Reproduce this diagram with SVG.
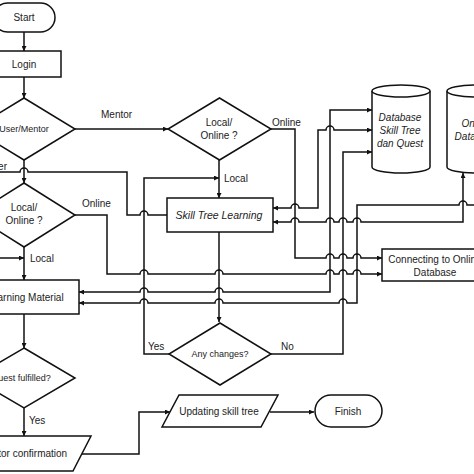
<svg xmlns="http://www.w3.org/2000/svg" width="474" height="474" viewBox="0 0 474 474">
<defs>
<marker id="ah" viewBox="0 0 6 6" refX="6" refY="3" markerWidth="5" markerHeight="5" orient="auto-start-reverse" markerUnits="userSpaceOnUse"><path d="M0,0 L6,3 L0,6 z" fill="#111"/></marker>
<style>
.s{fill:#fff;stroke:#111;stroke-width:1.5}
.c{fill:none;stroke:#111;stroke-width:1.5}
.e{marker-end:url(#ah)}
.b{marker-start:url(#ah);marker-end:url(#ah)}
text{font-family:"Liberation Sans",Arial,sans-serif;font-size:10px;fill:#222}
.m{text-anchor:middle}
.i{font-style:italic}
.sm{font-size:9px}
</style>
</defs>
<rect width="474" height="474" fill="#fff"/>
<g id="connectors">
<path class="c e" d="M24,32 V51"/>
<path class="c e" d="M24,77 V98"/>
<path class="c e" d="M24,160 V183"/>
<path class="c e" d="M75,129 H168"/>
<path class="c" d="M0,172 H20 a4,4 0 0 1 8,0 H127 V215 H140 a4,4 0 0 1 8,0 H167"/>
<path class="c e" d="M75,215 H107 V274 H140 a4,4 0 0 1 8,0 H215 a4,4 0 0 1 8,0 H326 a4,4 0 0 1 8,0 H339 a4,4 0 0 1 8,0 H353 a4,4 0 0 1 8,0 H382"/>
<path class="c e" d="M24,247 V280"/>
<path class="c e" d="M0,258 H24"/>
<path class="c e" d="M24,314 V348"/>
<path class="c e" d="M24,408 V436"/>
<path class="c e" d="M82,454 H139 V412 H170"/>
<path class="c e" d="M270,412 H314"/>
<path class="c e" d="M219,160 V198"/>
<path class="c e" d="M169,354 H144 V178 H219"/>
<path class="c e" d="M219,232 V322"/>
<path class="c e" d="M271,354 H343 V152 H372"/>
<path class="c e" d="M271,129 H295 V258 H326 a4,4 0 0 1 8,0 H339 a4,4 0 0 1 8,0 H353 a4,4 0 0 1 8,0 H382"/>
<path class="c b" d="M273,208 H291 a4,4 0 0 1 8,0 H318 V130 H326 a4,4 0 0 1 8,0 H372"/>
<path class="c b" d="M273,222 H291 a4,4 0 0 1 8,0 H326 a4,4 0 0 1 8,0 H339 a4,4 0 0 1 8,0 H353 a4,4 0 0 1 8,0 H463 V173"/>
<path class="c b" d="M79,292 H140 a4,4 0 0 1 8,0 H215 a4,4 0 0 1 8,0 H330 V110 H372"/>
<path class="c" d="M79,303 H140 a4,4 0 0 1 8,0 H215 a4,4 0 0 1 8,0 H339 a4,4 0 0 1 8,0 H357 V205 H459 a4,4 0 0 1 8,0 H480" marker-start="url(#ah)"/>
</g>
<g id="start"><rect class="s" x="-7" y="3" width="62" height="29" rx="14.5"/><text class="m" x="24" y="21">Start</text></g>
<g id="login"><rect class="s" x="-13" y="51" width="74" height="26"/><text class="m" x="24" y="68">Login</text></g>
<g id="usermentor"><polygon class="s" points="24,98 75,129 24,160 -27,129"/><text class="m sm" x="24" y="132">User/Mentor</text></g>
<g id="localonline1"><polygon class="s" points="24,183 75,215 24,247 -27,215"/><text class="m" x="24" y="211">Local/</text><text class="m" x="24" y="224">Online ?</text></g>
<g id="learning"><rect class="s" x="-31" y="280" width="110" height="34"/><text class="m" x="25" y="301">Learning Material</text></g>
<g id="quest"><polygon class="s" points="24,348 75,378 24,408 -27,378"/><text class="m sm" x="21" y="381">Quest fulfilled?</text></g>
<g id="mentorconf"><polygon class="s" points="-30,436 91,436 73,471 -48,471"/><text class="m" x="23" y="457">Mentor confirmation</text></g>
<g id="localonline2"><polygon class="s" points="219.5,98 271,129 219.5,160 168,129"/><text class="m" x="219" y="126">Local/</text><text class="m" x="219" y="139">Online ?</text></g>
<g id="skilltree"><rect class="s" x="167" y="198" width="106" height="34"/><text class="m i" x="219" y="219" style="font-size:10.5px">Skill Tree Learning</text></g>
<g id="anychanges"><polygon class="s" points="220,323 271,354 220,385 169,354"/><text class="m sm" x="220" y="357">Any changes?</text></g>
<g id="updating"><polygon class="s" points="179,395 278,395 261,427 162,427"/><text class="m" x="219" y="415">Updating skill tree</text></g>
<g id="finish"><rect class="s" x="315" y="395" width="67" height="32" rx="16"/><text class="m" x="348" y="415">Finish</text></g>
<g id="db"><path class="s" d="M372,91 V167 A29,6 0 0 0 430,167 V91"/><ellipse class="s" cx="401" cy="91" rx="29" ry="6"/><text class="m i" x="400" y="121">Database</text><text class="m i" x="400" y="134">Skill Tree</text><text class="m i" x="400" y="147">dan Quest</text></g>
<g id="onlinedb"><path class="s" d="M447,91 V167 A29,6 0 0 0 505,167 V91"/><ellipse class="s" cx="476" cy="91" rx="29" ry="6"/><text class="m i" x="476" y="127">Online</text><text class="m i" x="476" y="140">Database</text></g>
<g id="connecting"><rect class="s" x="382" y="249" width="106" height="32"/><text class="m" x="435" y="263">Connecting to Online</text><text class="m" x="435" y="276">Database</text></g>
<g id="labels">
<text x="101" y="118">Mentor</text>
<text x="7" y="170" style="text-anchor:end">User</text>
<text x="82" y="207">Online</text>
<text x="30" y="262">Local</text>
<text x="29" y="424">Yes</text>
<text x="272" y="126">Online</text>
<text x="224" y="182">Local</text>
<text x="148" y="350">Yes</text>
<text x="281" y="350">No</text>
</g>
</svg>
